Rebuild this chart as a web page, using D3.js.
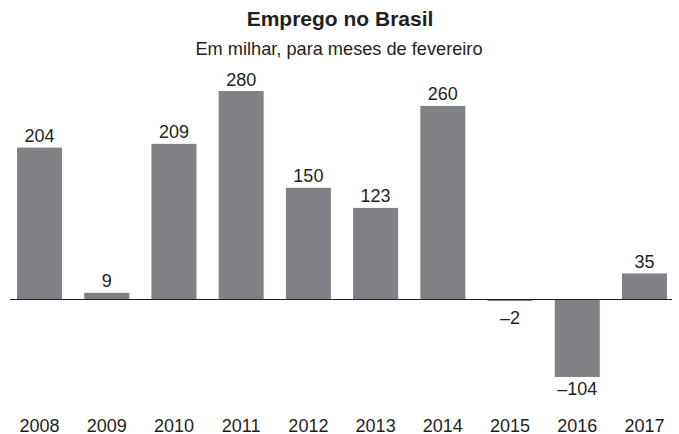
<!DOCTYPE html>
<html><head><meta charset="utf-8">
<script src="https://cdn.jsdelivr.net/npm/d3@7"></script>
<style>body{margin:0;background:#fff}svg{display:block}text{font-family:"Liberation Sans",Arial,sans-serif;fill:#231f20}</style>
</head><body><svg id="c" width="679" height="434"></svg>
<script>
const years = ["2008","2009","2010","2011","2012","2013","2014","2015","2016","2017"];
const values = [204, 9, 209, 280, 150, 123, 260, -2, -104, 35];
const labels = ["204","9","209","280","150","123","260","\u20132","\u2013104","35"];
const title = "Emprego no Brasil";
const subtitle = "Em milhar, para meses de fevereiro";

const svg = d3.select("#c");
const x = d3.scaleBand().domain(years).range([17, 667]).paddingInner(0.3306).paddingOuter(0);
const y = d3.scaleLinear().domain([0, 280]).range([299.5, 91]);

svg.append("text").attr("x", 340).attr("y", 26).attr("text-anchor","middle")
  .style("font-size","21px").style("font-weight","bold").text(title);
svg.append("text").attr("x", 339).attr("y", 55).attr("text-anchor","middle")
  .style("font-size","18.2px").text(subtitle);

svg.selectAll("rect.bar").data(values).join("rect").attr("class","bar")
  .attr("x",(d,i)=>x(years[i])).attr("width",x.bandwidth())
  .attr("y",d=>Math.min(y(d),y(0))).attr("height",d=>Math.abs(y(d)-y(0)))
  .attr("fill","#808185");

svg.append("line").attr("x1",10).attr("x2",672).attr("y1",y(0)).attr("y2",y(0))
  .attr("stroke","#231f20").attr("stroke-width",1.2);

svg.selectAll("text.val").data(values).join("text").attr("class","val")
  .attr("x",(d,i)=>x(years[i])+x.bandwidth()/2)
  .attr("y",d=>d>=0 ? y(d)-5.5 : Math.max(y(d)+18.5, y(0)+24.5))
  .attr("text-anchor","middle").style("font-size","18px")
  .text((d,i)=>labels[i]);

const xAxis = d3.axisBottom(x).tickSize(0).tickPadding(0);
const g = svg.append("g").attr("transform","translate(0,431.5)").call(xAxis);
g.select(".domain").remove();
g.selectAll("text").style("font-size","18px").style("font-family","Liberation Sans, Arial, sans-serif").attr("fill","#231f20").attr("dy","0");
</script></body></html>
